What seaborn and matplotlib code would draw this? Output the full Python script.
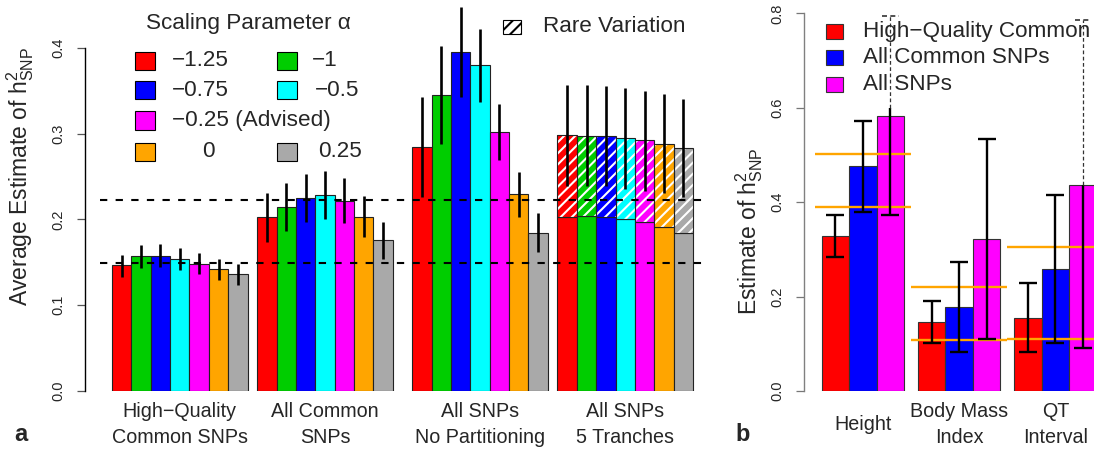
import numpy as np
import pandas as pd
import matplotlib
matplotlib.use("Agg")
import matplotlib.pyplot as plt
import matplotlib.transforms as mtrans
from matplotlib.patches import Rectangle
import seaborn as sns

sns.set_style("white")
plt.rcParams['font.family'] = ['Liberation Sans', 'DejaVu Sans']
plt.rcParams['hatch.linewidth'] = 1.5
plt.rcParams['axes.unicode_minus'] = True

# ---------------- data: panel a ----------------
alphas = ["−1.25", "−1", "−0.75", "−0.5", "−0.25 (Advised)", "0", "0.25"]
alpha_colors = ["#FF0000", "#00CD00", "#0000FF", "#00FFFF", "#FF00FF", "#FFA500", "#A9A9A9"]
groups_a = ["High−Quality\nCommon SNPs", "All Common\nSNPs", "All SNPs\nNo Partitioning", "All SNPs\n5 Tranches"]

hq_common = [0.147, 0.157, 0.158, 0.154, 0.148, 0.142, 0.136]
hq_common_lo = [0.133, 0.143, 0.145, 0.141, 0.136, 0.129, 0.124]
hq_common_hi = [0.159, 0.170, 0.171, 0.167, 0.161, 0.154, 0.148]

all_common = [0.2025, 0.214, 0.2245, 0.229, 0.222, 0.2025, 0.1755]
all_common_lo = [0.174, 0.186, 0.197, 0.201, 0.196, 0.179, 0.1535]
all_common_hi = [0.2305, 0.242, 0.253, 0.2565, 0.248, 0.2275, 0.197]

all_snps = [0.2845, 0.345, 0.395, 0.380, 0.302, 0.2295, 0.184]
all_snps_lo = [0.226, 0.288, 0.343, 0.337, 0.269, 0.203, 0.1625]
all_snps_hi = [0.3425, 0.402, 0.4475, 0.422, 0.335, 0.255, 0.207]

tranche_common = [0.2025, 0.2035, 0.2025, 0.200, 0.1975, 0.191, 0.1845]
tranche_total = [0.2985, 0.2977, 0.297, 0.2954, 0.2923, 0.2884, 0.2837]
tranche_lo = [0.239, 0.239, 0.239, 0.236, 0.2336, 0.2305, 0.226]
tranche_hi = [0.357, 0.357, 0.3557, 0.353, 0.350, 0.346, 0.3405]

ref_levels = [0.1489, 0.2227]
yticks_a = [0.0, 0.1, 0.2, 0.3, 0.4]
ytick_labels_a = ["0.0", "0.1", "0.2", "0.3", "0.4"]

# ---------------- data: panel b ----------------
traits = ["Height", "Body Mass\nIndex", "QT\nInterval"]
snp_sets = ["High−Quality Common SNPs", "All Common SNPs", "All SNPs"]
legend_labels_b = ["High−Quality Common", "All Common SNPs", "All SNPs"]
set_colors = ["#FF0000", "#0000FF", "#FF00FF"]

hqc_b = [0.329, 0.146, 0.155]
hqc_b_lo = [0.2846, 0.1024, 0.082]
hqc_b_hi = [0.373, 0.1907, 0.2288]

ac_b = [0.4767, 0.178, 0.2585]
ac_b_lo = [0.380, 0.082, 0.1024]
ac_b_hi = [0.572, 0.2726, 0.415]

as_b = [0.582, 0.3213, 0.4364]
as_b_lo = [0.373, 0.110, 0.0904]
as_b_hi = [0.600, 0.5346, 0.4364]
as_b_ext = [0.795, np.nan, 0.786]   # dashed continuation of the interval

published_lo = [0.390, 0.108, 0.110]
published_hi = [0.503, 0.2203, 0.3057]

yticks_b = [0.0, 0.2, 0.4, 0.6, 0.8]
ytick_labels_b = ["0.0", "0.2", "0.4", "0.6", "0.8"]

# ---------------- figure ----------------
W, H = 1094, 450
fig = plt.figure(figsize=(W / 100, H / 100), dpi=100)


def fx(px):
    return px / W


def fy(py):
    return 1 - py / H


axA = fig.add_axes([fx(85), fy(391), (707 - 85) / W, 390.2 / H])
axB = fig.add_axes([fx(804), fy(391), (1094 - 804) / W, 389.9 / H])

EDGE = "#222222"
LEGFS = 16.2
GRPFS = 14.2

# ---- panel a bars ----
group_starts_a = [0, 7.5, 15.5, 23]
base_vals = [hq_common, all_common, all_snps, tranche_common]
rows = []
for g, vals in enumerate(base_vals):
    for i, v in enumerate(vals):
        rows.append({"pos": group_starts_a[g] + i + 0.5, "value": v, "alpha": alphas[i]})
dfA = pd.DataFrame(rows)
sns.barplot(data=dfA, x="pos", y="value", hue="alpha", hue_order=alphas,
            palette=dict(zip(alphas, alpha_colors)), native_scale=True, dodge=False,
            width=1, saturation=1, errorbar=None, legend=False,
            edgecolor=EDGE, linewidth=0.8, ax=axA)

pos4 = np.array([group_starts_a[3] + i + 0.5 for i in range(len(alphas))])
rare = np.array(tranche_total) - np.array(tranche_common)
axA.bar(pos4, rare, bottom=tranche_common, width=1, color=alpha_colors,
        edgecolor="white", hatch="///", linewidth=0, zorder=2)
axA.bar(pos4, rare, bottom=tranche_common, width=1, fill=False,
        edgecolor=EDGE, linewidth=0.8, zorder=2.1)

centers, lows, highs = [], [], []
for g, (c, lo, hi) in enumerate([(hq_common, hq_common_lo, hq_common_hi),
                                 (all_common, all_common_lo, all_common_hi),
                                 (all_snps, all_snps_lo, all_snps_hi),
                                 (tranche_total, tranche_lo, tranche_hi)]):
    for i in range(len(alphas)):
        centers.append(c[i]); lows.append(lo[i]); highs.append(hi[i])
posA = np.array([group_starts_a[g] + i + 0.5 for g in range(4) for i in range(len(alphas))])
centers = np.array(centers); lows = np.array(lows); highs = np.array(highs)
axA.errorbar(posA, centers, yerr=[centers - lows, highs - centers], fmt="none",
             ecolor="black", elinewidth=1.9, capsize=0, zorder=4)

axA.hlines(ref_levels, xmin=-0.62, xmax=30.72, colors="black",
           linestyles=(0, (3.5, 4)), linewidth=1.5, zorder=5)

axA.set_xlim(-1.394, 30.72)
axA.set_ylim(0, 0.455)
axA.set_xticks([])
axA.set_xlabel("")
axA.set_yticks(yticks_a)
axA.set_yticklabels(ytick_labels_a, rotation=90, va="center", fontsize=10.5)
axA.tick_params(axis="y", length=6, width=0.9, color="#555555", pad=8, left=True)
for s in ["top", "right", "bottom"]:
    axA.spines[s].set_visible(False)
axA.spines["left"].set_bounds(0, 0.4)
axA.spines["left"].set_color("black")
axA.spines["left"].set_linewidth(1.0)
axA.set_ylabel("Average Estimate of $\\mathregular{h^2_{SNP}}$", fontsize=16.5)
axA.yaxis.set_label_coords(-0.078, 0.55)

trA = mtrans.blended_transform_factory(axA.transData, fig.transFigure)
for g, lab in enumerate(groups_a):
    lines = lab.split("\n")
    for k, line in enumerate(lines):
        axA.text(group_starts_a[g] + 3.5, fy(411.7 + 25.6 * k), line, transform=trA,
                 ha="center", va="center", fontsize=GRPFS)

# ---- panel b bars ----
group_starts_b = [0, 3.5, 7]
vals_b = [hqc_b, ac_b, as_b]
rows = []
for t in range(len(traits)):
    for j in range(len(snp_sets)):
        rows.append({"pos": group_starts_b[t] + j + 0.5, "value": vals_b[j][t], "set": snp_sets[j]})
dfB = pd.DataFrame(rows)
sns.barplot(data=dfB, x="pos", y="value", hue="set", hue_order=snp_sets,
            palette=dict(zip(snp_sets, set_colors)), native_scale=True, dodge=False,
            width=1, saturation=1, errorbar=None, legend=False,
            edgecolor="#333333", linewidth=0.8, ax=axB)

for t in range(len(traits)):
    axB.hlines([published_lo[t], published_hi[t]], group_starts_b[t] - 0.25,
               group_starts_b[t] + 3.25, colors="#FFA500", linewidth=1.7, zorder=3)

los_b = [hqc_b_lo, ac_b_lo, as_b_lo]
his_b = [hqc_b_hi, ac_b_hi, as_b_hi]
CAP = 6.5
for t in range(len(traits)):
    for j in range(len(snp_sets)):
        x = group_starts_b[t] + j + 0.5
        v = vals_b[j][t]
        lo = los_b[j][t]
        hi = his_b[j][t]
        ext = as_b_ext[t] if j == 2 else np.nan
        if np.isnan(ext):
            axB.errorbar([x], [v], yerr=[[v - lo], [hi - v]], fmt="none", ecolor="black",
                         elinewidth=1.7, capsize=CAP, capthick=1.7, zorder=4)
        else:
            axB.vlines(x, lo, hi, colors="black", linewidth=1.7, zorder=4)
            axB.plot([x], [lo], ls="none", marker="_", ms=2 * CAP, mew=1.7, color="black", zorder=4)
            axB.vlines(x, hi, ext, colors="#333333", linewidth=0.9,
                       linestyles=(0, (3, 2)), zorder=4)
            axB.hlines(ext, x - 0.3, x + 0.3, colors="#333333", linewidth=1.2,
                       linestyles=(0, (3, 2)), zorder=4)

axB.set_xlim(-0.644, 9.90)
axB.set_ylim(0, 0.826)
axB.set_xticks([])
axB.set_xlabel("")
axB.set_yticks(yticks_b)
axB.set_yticklabels(ytick_labels_b, rotation=90, va="center", fontsize=10.5)
axB.tick_params(axis="y", length=6, width=0.9, color="#777777", pad=8, left=True)
for s in ["top", "right", "bottom"]:
    axB.spines[s].set_visible(False)
axB.spines["left"].set_bounds(0, 0.8)
axB.spines["left"].set_color("#808080")
axB.spines["left"].set_linewidth(1.0)
axB.set_ylabel("Estimate of $\\mathregular{h^2_{SNP}}$", fontsize=16.5)
axB.yaxis.set_label_coords(-0.135, 0.41)

trB = mtrans.blended_transform_factory(axB.transData, fig.transFigure)
for t, lab in enumerate(traits):
    lines = lab.split("\n")
    y0 = 424.4 - 12.8 * (len(lines) - 1)
    for k, line in enumerate(lines):
        axB.text(group_starts_b[t] + 1.5, fy(y0 + 25.6 * k), line, transform=trB,
                 ha="center", va="center", fontsize=GRPFS)

# ---- legend panel a ----
fig.text(fx(248.5), fy(23), "Scaling Parameter α", ha="center", va="center", fontsize=LEGFS)
leg_rows = [61, 90, 120.5, 151.5]
leg_items = [(0, 0, 135, 172), (2, 1, 135, 172), (4, 2, 135, 172), (5, 3, 135, 202),
             (1, 0, 276.7, 312), (3, 1, 276.7, 315), (6, 3, 276.7, 318)]
for idx, r, bx, tx in leg_items:
    yc = leg_rows[r]
    fig.patches.append(Rectangle((fx(bx), fy(yc + 9)), 20 / W, 18 / H, transform=fig.transFigure,
                                 facecolor=alpha_colors[idx], edgecolor="black", linewidth=0.8))
    fig.text(fx(tx), fy(yc), alphas[idx], ha="left", va="center", fontsize=LEGFS)

fig.patches.append(Rectangle((fx(503), fy(34.3)), 18 / W, 14.3 / H, transform=fig.transFigure,
                             facecolor="white", edgecolor="black", hatch="///", linewidth=0.8))
fig.text(fx(543), fy(27), "Rare Variation", ha="left", va="center", fontsize=LEGFS)

# ---- legend panel b ----
for j, yc in enumerate([31.7, 57.3, 84.7]):
    fig.patches.append(Rectangle((fx(826), fy(yc + 7.5)), 17 / W, 15 / H, transform=fig.transFigure,
                                 facecolor=set_colors[j], edgecolor="#333333", linewidth=0.8))
    fig.text(fx(863), fy(yc), legend_labels_b[j], ha="left", va="center", fontsize=LEGFS)

fig.text(fx(14), fy(441), "a", fontweight="bold", fontsize=17, va="baseline")
fig.text(fx(735), fy(441), "b", fontweight="bold", fontsize=17, va="baseline")

fig.savefig("out.png", dpi=100)
